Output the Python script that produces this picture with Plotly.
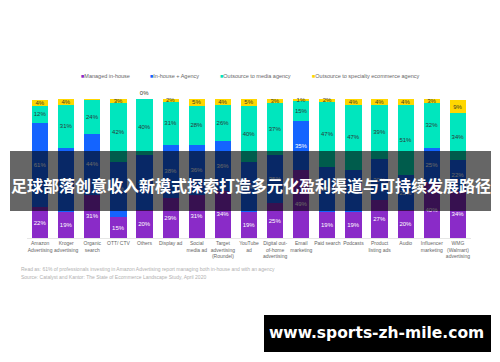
import plotly.graph_objects as go

categories = ["Amazon<br>Advertising", "Kroger<br>advertising", "Organic<br>search", "OTT/ CTV",
              "Others", "Display ad", "Social<br>media ad", "Target<br>advertising<br>(Roundel)",
              "YouTube<br>ad", "Digital out-<br>of-home<br>advertising", "Email<br>marketing",
              "Paid search", "Podcasts", "Product<br>listing ads", "Audio",
              "Influencer<br>marketing", "WMG<br>(Walmart)<br>advertising"]

managed_in_house = [22, 19, 31, 15, 20, 29, 31, 34, 19, 25, 49, 19, 19, 27, 20, 40, 34]
in_house_agency = [61, 46, 44, 40, 40, 38, 36, 36, 36, 35, 35, 32, 30, 30, 25, 25, 22]
media_agency = [12, 31, 24, 42, 40, 31, 28, 26, 40, 37, 15, 47, 47, 39, 51, 32, 34]
specialty_agency = [4, 4, 2, 3, 0, 2, 5, 4, 5, 3, 1, 2, 4, 4, 4, 3, 9]

series = [
    ("Managed in-house", managed_in_house, "#8A2BC8", "white"),
    ("In-house + Agency", in_house_agency, "#1464FF", "white"),
    ("Outsource to media agency", media_agency, "#00E6BE", "#2a3a3a"),
    ("Outsource to specialty ecommerce agency", specialty_agency, "#FFD700", "#3a3a2a"),
]

FONT = "Liberation Sans, Arial, sans-serif"

fig = go.Figure()
for name, vals, color, tcolor in series:
    positions = ["inside" if v > 0 else "outside" for v in vals]
    fig.add_trace(go.Bar(
        x=categories, y=vals, name=name, marker=dict(color=color, line=dict(width=0)),
        texttemplate="%{y}%", textposition=positions, insidetextanchor="middle",
        textangle=0, constraintext="none",
        textfont=dict(size=6, color=tcolor, family=FONT),
        insidetextfont=dict(size=6, color=tcolor, family=FONT),
        outsidetextfont=dict(size=6, color=tcolor, family=FONT),
        cliponaxis=False, showlegend=False,
    ))

# page body adds an 8px offset, so the figure is 8px smaller than the window
fig.update_layout(
    barmode="stack", bargap=0.38,
    width=492, height=354,
    margin=dict(l=19, r=29, t=91, b=124),
    plot_bgcolor="white", paper_bgcolor="white",
    uniformtext=dict(minsize=6, mode="show"),
    font=dict(family=FONT),
)
fig.update_yaxes(range=[0, 100], visible=False)
fig.update_xaxes(showline=True, linecolor="#e6e6e6", linewidth=1, ticks="",
                 tickfont=dict(size=5, color="#666666", family=FONT), tickangle=0)

# legend (drawn as text)
legend_items = [("Managed in-house", "#8A2BC8", 80), ("In-house + Agency", "#1464FF", 149),
                ("Outsource to media agency", "#00E6BE", 219),
                ("Outsource to specialty ecommerce agency", "#FFD700", 311)]
for label, color, px in legend_items:
    fig.add_annotation(xref="paper", yref="paper", x=(px - 1 - 27) / 444, y=(238 - 76) / 139,
                       xanchor="left", yanchor="middle", showarrow=False,
                       text=f'<span style="color:{color}">■</span>{label}',
                       font=dict(size=5.5, color="#666666", family=FONT))

notes = ["Read as: 61% of professionals investing in Amazon Advertising report managing both in-house and with an agency",
         "Source: Catalyst and Kantor: The State of Ecommerce Landscape Study, April 2020"]
for i, n in enumerate(notes):
    fig.add_annotation(xref="paper", yref="paper", x=(19 - 27) / 444, y=(238 - (269 + 8 * i)) / 139,
                       xanchor="left", yanchor="middle", showarrow=False, text=n,
                       font=dict(size=5, color="#b0b0b0", family=FONT))

# dark overlay banner with title
fig.add_shape(type="rect", xref="paper", yref="paper", layer="above",
              x0=(10 - 27) / 444, x1=(491 - 27) / 444, y0=(238 - 211) / 139, y1=(238 - 151) / 139,
              fillcolor="rgba(0,0,0,0.6)", line=dict(width=0))
fig.add_annotation(xref="paper", yref="paper", x=(250.5 - 27) / 444, y=(238 - 185) / 139,
                   xanchor="center", yanchor="middle", showarrow=False,
                   text="<b>足球部落创意收入新模式探索打造多元化盈利渠道与可持续发展路径</b>",
                   font=dict(size=16, color="white", family="Noto Sans CJK SC"))

# black website box
fig.add_shape(type="rect", xref="paper", yref="paper", layer="above",
              x0=(264 - 27) / 444, x1=(491 - 27) / 444, y0=(238 - 352) / 139, y1=(238 - 315) / 139,
              fillcolor="black", line=dict(width=0))
fig.add_annotation(xref="paper", yref="paper", x=(376 - 27) / 444, y=(238 - 333) / 139,
                   xanchor="center", yanchor="middle", showarrow=False,
                   text="<b>www.sports-zh-mile.com</b>",
                   font=dict(size=15.5, color="white", family="DejaVu Sans, sans-serif"))

fig.write_html("out.html")
